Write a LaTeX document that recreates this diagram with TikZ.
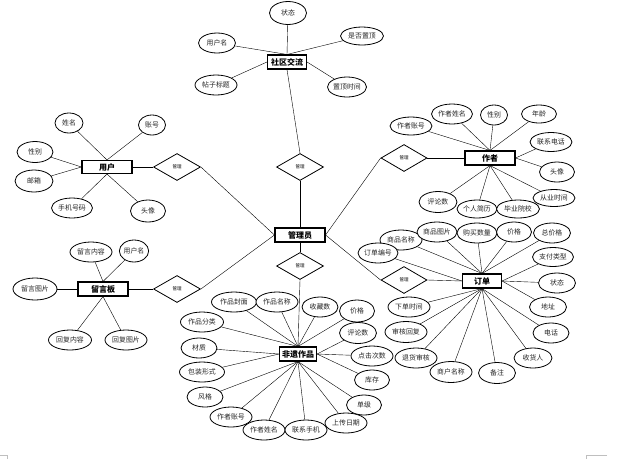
\documentclass[tikz,border=0pt]{standalone}
\usepackage{fontspec}
\setmainfont{Noto Sans CJK SC}
\usetikzlibrary{shapes.geometric,backgrounds}
\begin{document}
\begin{tikzpicture}[x=1pt,y=-1pt,
 attr/.style={ellipse,draw,fill=white,line width=0.8pt,inner sep=0pt,minimum width=40pt,minimum height=20pt,font=\fontsize{6.9}{7.5}\selectfont,text=black!85},
 ent/.style={rectangle,draw,fill=white,line width=1.1pt,inner sep=0pt,minimum width=50pt,minimum height=14pt,font=\fontsize{8}{9}\selectfont\bfseries},
 rel/.style={diamond,draw,fill=white,line width=0.8pt,inner sep=0pt,minimum width=47pt,minimum height=27pt,font=\fontsize{4.5}{5}\selectfont},
 conn/.style={line width=0.7pt},
 cornermark/.style={draw=gray!50,line width=0.6pt}]
\useasboundingbox (0,0) rectangle (628,459);
% entities
\node[ent,minimum width=39pt] (sq) at (287,62) {社区交流};
\node[ent,minimum height=13pt] (us) at (107,167) {用户};
\node[ent] (au) at (490,158) {作者};
\node[ent,minimum width=39pt] (od) at (482,281) {订单};
\node[ent,minimum width=37pt] (ar) at (298,354) {非遗作品};
\node[ent] (mb) at (103,289) {留言板};
\node[ent] (ad) at (300,235) {管理员};
% relations
\node[rel] (d1) at (300,167) {管理};
\node[rel] (d2) at (300,266) {管理};
\node[rel] (du) at (177,167) {管理};
\node[rel] (dm) at (177,289) {管理};
\node[rel,minimum width=46pt] (da) at (404,158) {管理};
\node[rel,minimum width=46pt] (dord) at (404,280) {管理};
% community attributes
\node[attr,minimum width=37pt,minimum height=23pt] (sq1) at (288,13) {状态};
\node[attr,minimum width=43pt,minimum height=18pt] (sq2) at (362,36) {是否置顶};
\node[attr,minimum width=37pt] (sq3) at (217,43) {用户名};
\node[attr,minimum width=42pt] (sq4) at (216,85) {帖子标题};
\node[attr,minimum width=37pt] (sq5) at (347,87) {置顶时间};
% user attributes
\node[attr,minimum width=28pt] (us1) at (69,123) {姓名};
\node[attr,minimum width=27pt] (us2) at (152,125) {账号};
\node[attr,minimum width=36pt,minimum height=21pt] (us3) at (35,152) {性别};
\node[attr,minimum width=38pt,minimum height=22pt] (us4) at (34,181) {邮箱};
\node[attr,minimum width=41pt] (us5) at (72,208) {手机号码};
\node[attr,minimum width=35pt,minimum height=22pt] (us6) at (148,211) {头像};
% author attributes
\node[attr,minimum width=42pt,minimum height=18pt] (au1) at (411,126) {作者账号};
\node[attr,minimum width=41pt] (au2) at (452,114) {作者姓名};
\node[attr,minimum width=27pt] (au3) at (494,115) {性别};
\node[attr,minimum width=35pt,minimum height=18pt] (au4) at (539,114) {年龄};
\node[attr,minimum width=42pt,minimum height=19pt] (au5) at (551,142) {联系电话};
\node[attr,minimum width=35pt] (au6) at (557,172) {头像};
\node[attr,minimum width=38pt,minimum height=21pt] (au7) at (438,202) {评论数};
\node[attr,minimum width=40pt,minimum height=18pt] (au8) at (477,209) {个人简历};
\node[attr,minimum width=43pt,minimum height=18pt] (au9) at (518,209) {毕业院校};
\node[attr,minimum width=42pt,minimum height=17pt] (au10) at (554,198) {从业时间};
% order attributes
\node[attr,minimum width=42pt] (od1) at (401,240) {商品名称};
\node[attr,minimum width=40pt] (od2) at (437,232) {商品图片};
\node[attr,minimum width=40pt] (od3) at (477,233) {购买数量};
\node[attr,minimum width=35pt] (od4) at (514,232) {价格};
\node[attr,minimum width=37pt] (od5) at (552,233) {总价格};
\node[attr,minimum width=40pt] (od6) at (378,253) {订单编号};
\node[attr,minimum width=41pt,minimum height=19pt] (od7) at (553,257) {支付类型};
\node[attr,minimum width=37pt] (od8) at (557,283) {状态};
\node[attr,minimum width=37pt] (od9) at (548,307) {地址};
\node[attr,minimum width=36pt] (od10) at (551,333) {电话};
\node[attr,minimum width=38pt] (od11) at (533,358) {收货人};
\node[attr,minimum width=37pt,minimum height=21pt] (od12) at (497,373) {备注};
\node[attr,minimum width=42pt,minimum height=21pt] (od13) at (451,372) {商户名称};
\node[attr,minimum width=42pt] (od14) at (416,358) {退货审核};
\node[attr,minimum width=42pt,minimum height=21pt] (od15) at (406,332) {审核回复};
\node[attr,minimum width=42pt] (od16) at (409,307) {下单时间};
% artwork attributes
\node[attr,minimum width=45pt] (ar1) at (234,302) {作品封面};
\node[attr,minimum width=42pt] (ar2) at (277,302) {作品名称};
\node[attr,minimum width=36pt] (ar3) at (320,307) {收藏数};
\node[attr,minimum width=35pt,minimum height=22pt] (ar4) at (357,311) {价格};
\node[attr,minimum width=37pt,minimum height=21pt] (ar5) at (358,333) {评论数};
\node[attr,minimum width=43pt] (ar6) at (202,322) {作品分类};
\node[attr,minimum width=36pt] (ar7) at (199,348) {材质};
\node[attr,minimum width=45pt] (ar8) at (202,372) {包装形式};
\node[attr,minimum width=36pt] (ar9) at (205,397) {风格};
\node[attr,minimum width=42pt] (ar10) at (231,417) {作者账号};
\node[attr,minimum width=42pt] (ar11) at (264,430) {作者姓名};
\node[attr,minimum width=42pt] (ar12) at (306,430) {联系手机};
\node[attr,minimum width=42pt] (ar13) at (346,423) {上传日期};
\node[attr,minimum width=35pt] (ar14) at (364,405) {单级};
\node[attr,minimum width=35pt] (ar15) at (372,380) {库存};
\node[attr,minimum width=42pt] (ar16) at (372,356) {点击次数};
% message board attributes
\node[attr,minimum width=42pt] (mb1) at (91,252) {留言内容};
\node[attr,minimum width=28pt,minimum height=22pt] (mb2) at (134,251) {用户名};
\node[attr,minimum width=44pt,minimum height=22pt] (mb3) at (35,289) {留言图片};
\node[attr,minimum width=43pt] (mb4) at (70,340) {回复内容};
\node[attr,minimum width=42pt] (mb5) at (126,340) {回复图片};
% corner marks
\coordinate (m1) at (0,455); \coordinate (m2) at (7,455); \coordinate (m3) at (7,459);
\coordinate (m4) at (607,455); \coordinate (m5) at (586,455); \coordinate (m6) at (586,459);
\draw[cornermark] (m1) -- (m2) -- (m3);
\draw[cornermark] (m4) -- (m5) -- (m6);
\begin{scope}[on background layer,conn]
\draw (sq.south) -- (d1.north);
\draw (d1.south) -- (ad.north);
\draw (ad.south) -- (d2.north);
\draw (d2.south) -- (ar.north);
\draw (us.east) -- (du.west);
\draw (du.east) -- (ad.west);
\draw (mb.east) -- (dm.west);
\draw (dm.east) -- (ad.west);
\draw (au.west) -- (da.east);
\draw (da.west) -- (ad.east);
\draw (od.west) -- (dord.east);
\draw (dord.west) -- (ad.east);
% community
\foreach \a in {sq1,sq2,sq3} \draw (\a) -- (sq.north);
\draw (sq4) -- (sq.west);
\draw (sq5) -- (sq.east);
% user
\foreach \a in {us1,us2} \draw (\a) -- (us.north);
\foreach \a in {us3,us4} \draw (\a) -- (us.west);
\foreach \a in {us5,us6} \draw (\a) -- (us.south);
% author
\foreach \a in {au1,au2,au3,au4} \draw (\a) -- (au.north);
\foreach \a in {au5,au6} \draw (\a) -- (au.east);
\foreach \a in {au7,au8,au9,au10} \draw (\a) -- (au.south);
% order
\foreach \a in {od1,od2,od3,od4,od5} \draw (\a) -- (od.north);
\draw (od6) -- (od.west);
\foreach \a in {od7,od8,od9} \draw (\a) -- (od.east);
\foreach \a in {od10,od11,od12,od13,od14,od15,od16} \draw (\a) -- (od.south);
% artwork
\foreach \a in {ar1,ar2,ar3,ar4,ar6} \draw (\a) -- (ar.north);
\foreach \a in {ar5,ar15,ar16} \draw (\a) -- (ar.east);
\foreach \a in {ar7,ar8} \draw (\a) -- (ar.west);
\foreach \a in {ar9,ar10,ar11,ar12,ar13,ar14} \draw (\a) -- (ar.south);
% message board
\foreach \a in {mb1,mb2} \draw (\a) -- (mb.north);
\draw (mb3) -- (mb.west);
\foreach \a in {mb4,mb5} \draw (\a) -- (mb.south);
\end{scope}
\end{tikzpicture}
\end{document}
